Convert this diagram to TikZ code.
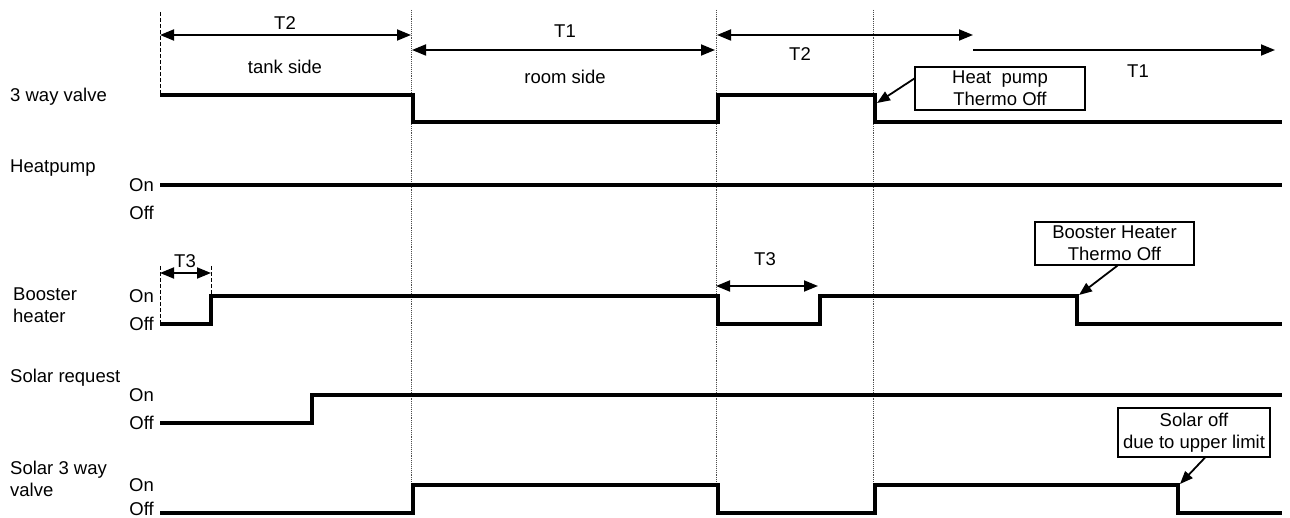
\documentclass[tikz,border=0pt]{standalone}
\usepackage{fontspec}
\setmainfont{Liberation Sans}
\usetikzlibrary{positioning,arrows.meta,calc}

\tikzset{
  sig/.style={line width=3.3pt, line join=miter},
  tick/.style={black!70, densely dotted, line width=0.9pt},
  lim/.style={dashed, dash pattern=on 4pt off 2pt, line width=1pt},
  span/.style={line width=1.8pt, {Triangle[length=14pt,width=11pt]}-{Triangle[length=14pt,width=11pt]}},
  rspan/.style={line width=1.8pt, -{Triangle[length=14pt,width=11pt]}},
  callarr/.style={line width=1.8pt, -{Triangle[length=13pt,width=10pt]}},
  txt/.style={font=\fontsize{18.5}{22}\selectfont, inner sep=0pt},
  lvl/.style={txt, anchor=east},
  sname/.style={txt, anchor=west, align=left},
  callout/.style={txt, draw, line width=1.2pt, align=center}
}

\begin{document}
\begin{tikzpicture}[x=1pt,y=-1pt]
\useasboundingbox (0,0) rectangle (1290,518);

% phase boundaries
\foreach \x in {411,716,873} \draw[tick] (\x,10) -- (\x,485);
\draw[lim] (160,12) -- (160,95);
\draw[lim] (160,266) -- (160,324);
\draw[lim] (211,266) -- (211,296);

% signal names
\node[sname] (nvalve) at (10,97) {3 way valve};
\node[sname] (nhp) at (10,168) {Heatpump};
\node[sname] (nbh) at (13,305) {Booster\\heater};
\node[sname] (nsr) at (10,378) {Solar request};
\node[sname] (nsv) at (10,479) {Solar 3 way\\valve};

% on/off levels
\foreach \y/\n in {185/hp,296/bh,395/sr}{
  \node[lvl] (on\n) at (154,\y) {On};
  \node[lvl] (off\n) at (154,\y+28) {Off};
}
\node[lvl] (onsv) at (154,485) {On};
\node[lvl] (offsv) at (154,509) {Off};

% time spans
\coordinate (s0) at (160,35);  \coordinate (s1) at (411,35);
\coordinate (s2) at (412,50);  \coordinate (s3) at (715,50);
\coordinate (s4) at (717,35);  \coordinate (s5) at (973,35);
\coordinate (s6) at (973,50);  \coordinate (s7) at (1275,50);
\draw[span] (s0) -- (s1);
\draw[span] (s2) -- (s3);
\draw[span] (s4) -- (s5);
\draw[rspan] (s6) -- (s7);
\node[txt] (ta) at (285,23) {T2};
\node[txt] (tb) at (565,31) {T1};
\node[txt] (tc) at (800,54) {T2};
\node[txt] (td) at (1138,71) {T1};
\node[txt] (tank) at (285,67) {tank side};
\node[txt] (room) at (565,77) {room side};

\coordinate (u0) at (160,273); \coordinate (u1) at (211,273);
\coordinate (u2) at (716,286); \coordinate (u3) at (818,286);
\draw[span] (u0) -- (u1);
\draw[span] (u2) -- (u3);
\node[txt] (te) at (185,261) {T3};
\node[txt] (tf) at (765,259) {T3};

% signals
\draw[sig] (160,95) -- (413,95) -- (413,122) -- (718,122) -- (718,95)
  -- (875,95) -- (875,122) -- (1282,122);
\draw[sig] (160,185) -- (1282,185);
\draw[sig] (160,324) -- (211,324) -- (211,296) -- (718,296) -- (718,324)
  -- (820,324) -- (820,296) -- (1077,296) -- (1077,324) -- (1282,324);
\draw[sig] (160,423) -- (312,423) -- (312,395) -- (1282,395);
\draw[sig] (160,513) -- (413,513) -- (413,485) -- (718,485) -- (718,513)
  -- (875,513) -- (875,485) -- (1178,485) -- (1178,513) -- (1282,513);

% callouts
\node[callout, minimum width=170pt, minimum height=43pt] (hpoff) at (1000,88.5) {Heat\ \ pump\\Thermo Off};
\node[callout, minimum width=159pt, minimum height=43pt] (bhoff) at (1114.5,243.5) {Booster Heater\\Thermo Off};
\node[callout, minimum width=152pt, minimum height=49pt] (soff) at (1194,432.5) {Solar off\\due to upper limit};
\coordinate (hptip) at (877,103);
\coordinate (bhtip) at (1079,295);
\coordinate (stip) at (1180,484);
\draw[callarr] ([yshift=10pt]hpoff.west) -- (hptip);
\draw[callarr] ([xshift=3pt]bhoff.south) -- (bhtip);
\draw[callarr] ([xshift=11pt]soff.south) -- (stip);
\end{tikzpicture}
\end{document}
